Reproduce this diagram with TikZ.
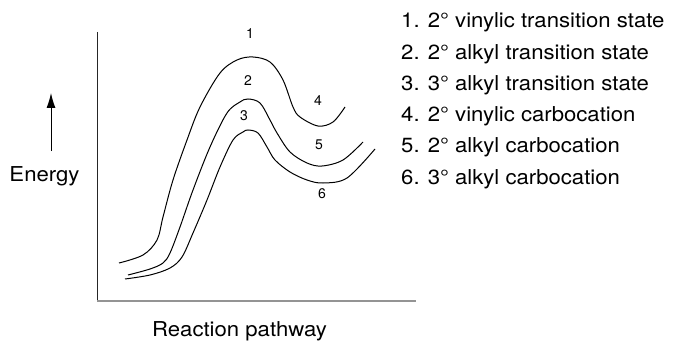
\documentclass[tikz,border=0pt]{standalone}
\usepackage{fontspec}
\setmainfont{TeX Gyre Heros}
\usetikzlibrary{arrows.meta}
\newcommand{\hstretch}[1]{\scalebox{1.08}[1]{#1}}
\tikzset{
  bigtxt/.style={inner sep=0pt, font=\fontsize{20.5}{24}\selectfont},
  legtxt/.style={bigtxt, anchor=base west},
  numlbl/.style={inner sep=0pt, anchor=base, font=\fontsize{14}{16}\selectfont},
  curve/.style={line width=1pt, black},
}
\begin{document}
\begin{tikzpicture}[x=1pt,y=-1pt]
\useasboundingbox (0,0) rectangle (674,342);
% axes
\coordinate (origin) at (97.7,300.7);
\coordinate (ytop) at (97.7,32);
\coordinate (xend) at (416,300.7);
\draw[line width=1.3pt, black!85] (ytop) -- (origin);
\draw[line width=2pt, black!42] ([xshift=-0.65pt]origin) -- (xend);
% energy arrow
\coordinate (arrbase) at (51,151);
\coordinate (arrtip) at (51,93);
\draw[line width=1pt, -{Latex[length=15pt,width=9pt]}] (arrbase) -- (arrtip);
\node[bigtxt, anchor=base] (energy) at (44.5,181) {\hstretch{Energy}};
\node[bigtxt, anchor=base] (pathway) at (239.5,336) {\hstretch{Reaction pathway}};
% curves
\draw[curve] plot[smooth, tension=0.55] coordinates {(119,263) (143,255) (157,240) (163,217) (173,180) (187,140) (200,107) (220,73) (237,60) (253,57) (270,62) (283,80) (293,107) (300,117) (318,126) (333,122) (345,107)};
\draw[curve] plot[smooth, tension=0.55] coordinates {(128,275) (150,269) (163,263) (170,253) (180,227) (193,190) (210,147) (227,113) (240,102) (248,99) (260,103) (270,120) (277,133) (290,152) (307,163) (322,166) (343,160) (363,142)};
\draw[curve] plot[smooth, tension=0.55] coordinates {(125,279) (150,275) (170,268) (182,257) (193,233) (207,200) (220,167) (233,140) (243,132) (248,130) (258,133) (267,147) (275,160) (290,172) (307,180) (323,183) (347,178) (375,149)};
% curve labels
\node[numlbl] (l1) at (250,39) {1};
\node[numlbl] (l2) at (248,86) {2};
\node[numlbl] (l3) at (244,121) {3};
\node[numlbl] (l4) at (318,106) {4};
\node[numlbl] (l5) at (319,149) {5};
\node[numlbl] (l6) at (322,198) {6};
% legend
\node[legtxt] (g1) at (401,28) {\hstretch{1. 2° vinylic transition state}};
\node[legtxt] (g2) at (401,59.2) {\hstretch{2. 2° alkyl transition state}};
\node[legtxt] (g3) at (401,90.4) {\hstretch{3. 3° alkyl transition state}};
\node[legtxt] (g4) at (401,121.6) {\hstretch{4. 2° vinylic carbocation}};
\node[legtxt] (g5) at (401,152.8) {\hstretch{5. 2° alkyl carbocation}};
\node[legtxt] (g6) at (401,184) {\hstretch{6. 3° alkyl carbocation}};
\end{tikzpicture}
\end{document}
